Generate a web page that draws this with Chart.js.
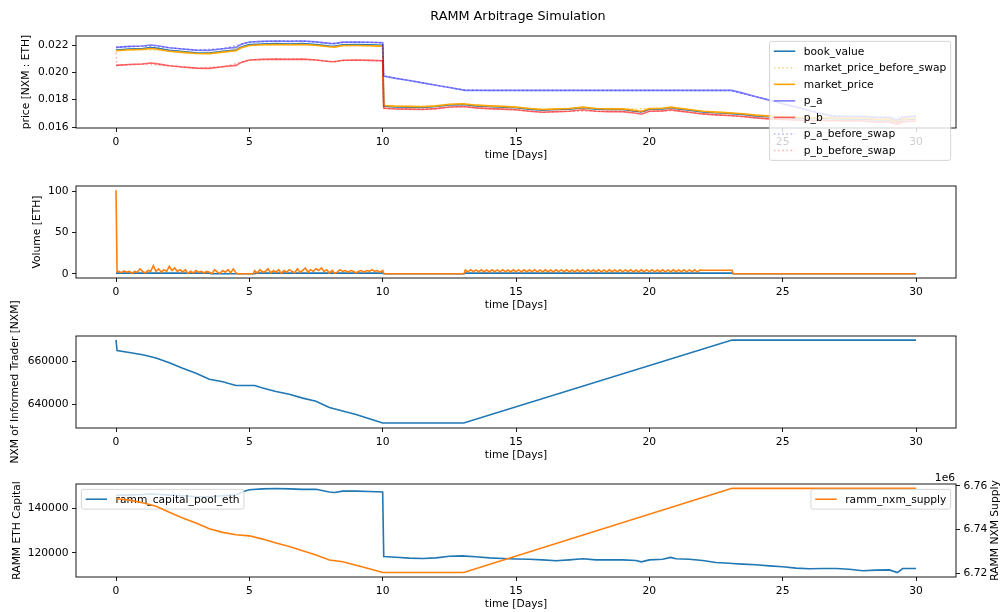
<!DOCTYPE html>
<html>
<head>
<meta charset="utf-8">
<title>RAMM Arbitrage Simulation</title>
<script src="https://cdn.jsdelivr.net/npm/chart.js@4.4.1/dist/chart.umd.min.js"></script>
<style>
html, body { margin:0; padding:0; background:#ffffff; }
#fig { position:relative; width:1001px; height:612px; overflow:hidden; background:#ffffff; }
#fig canvas { position:absolute; left:0; top:0; }
</style>
</head>
<body>
<div id="fig">
  <canvas id="p1" width="1001" height="612"></canvas>
  <canvas id="p2" width="1001" height="612"></canvas>
  <canvas id="p3" width="1001" height="612"></canvas>
  <canvas id="p4" width="1001" height="612"></canvas>
</div>
<script>
// ---------------- data ----------------
const FIG_TITLE = 'RAMM Arbitrage Simulation';
const xTicks = [0, 5, 10, 15, 20, 25, 30];
const xTickLabels = ['0', '5', '10', '15', '20', '25', '30'];
const priceTicks = [0.016, 0.018, 0.020, 0.022];
const priceTickLabels = ['0.016', '0.018', '0.020', '0.022'];
const volTicks = [0, 50, 100];
const volTickLabels = ['0', '50', '100'];
const traderTicks = [640000, 660000];
const traderTickLabels = ['640000', '660000'];
const capTicks = [120000, 140000];
const capTickLabels = ['120000', '140000'];
const supplyTicks = [6720000, 6740000, 6760000];
const supplyTickLabels = ['6.72', '6.74', '6.76'];

const priceDays = [0, 0.5, 1, 1.3, 1.5, 2, 2.5, 3, 3.5, 4,
  4.5, 4.7, 5, 5.5, 6, 6.5, 7, 7.5, 8, 8.2,
  8.5, 9, 9.5, 10, 10.04, 10.5, 11, 11.5, 12, 12.5,
  13, 13.1, 13.5, 14, 14.5, 15, 15.5, 16, 16.5, 17,
  17.5, 18, 18.5, 19, 19.5, 19.7, 20, 20.5, 20.8, 21,
  21.5, 22, 22.5, 23, 23.1, 23.5, 24, 24.5, 25, 25.5,
  26, 26.5, 26.8, 27, 27.5, 28, 28.5, 29, 29.3, 29.5,
  30];
const bookValue = [0.02164, 0.02171, 0.02174, 0.02181, 0.02177, 0.02161, 0.02152, 0.02144, 0.02142, 0.02154,
  0.02164, 0.02186, 0.02203, 0.02208, 0.02210, 0.02208, 0.02210, 0.02204, 0.02193, 0.02191,
  0.02202, 0.02203, 0.02201, 0.02198, 0.01752, 0.01747, 0.01746, 0.01743, 0.01750, 0.01761,
  0.01764, 0.01763, 0.01755, 0.01750, 0.01746, 0.01741, 0.01731, 0.01723, 0.01728, 0.01731,
  0.01741, 0.01731, 0.01728, 0.01728, 0.01716, 0.01710, 0.01730, 0.01733, 0.01741, 0.01735,
  0.01723, 0.01711, 0.01704, 0.01699, 0.01698, 0.01692, 0.01682, 0.01675, 0.01670, 0.01667,
  0.01663, 0.01663, 0.01662, 0.01661, 0.01660, 0.01659, 0.01653, 0.01651, 0.01636, 0.01653,
  0.01659];
const marketPrice = [0.02158, 0.02165, 0.02168, 0.02175, 0.02171, 0.02155, 0.02146, 0.02138, 0.02136, 0.02148,
  0.02158, 0.02180, 0.02197, 0.02202, 0.02204, 0.02202, 0.02204, 0.02198, 0.02187, 0.02185,
  0.02196, 0.02197, 0.02195, 0.02192, 0.01758, 0.01752, 0.01751, 0.01748, 0.01755, 0.01767,
  0.01770, 0.01768, 0.01760, 0.01755, 0.01751, 0.01746, 0.01736, 0.01728, 0.01733, 0.01736,
  0.01746, 0.01736, 0.01733, 0.01733, 0.01721, 0.01714, 0.01735, 0.01738, 0.01746, 0.01740,
  0.01728, 0.01716, 0.01709, 0.01704, 0.01703, 0.01697, 0.01687, 0.01680, 0.01675, 0.01672,
  0.01668, 0.01668, 0.01667, 0.01666, 0.01665, 0.01664, 0.01658, 0.01656, 0.01640, 0.01658,
  0.01664];
const pA = [0.02183, 0.02190, 0.02193, 0.02200, 0.02196, 0.02180, 0.02171, 0.02163, 0.02161, 0.02173,
  0.02183, 0.02205, 0.02222, 0.02227, 0.02229, 0.02227, 0.02229, 0.02223, 0.02212, 0.02210,
  0.02221, 0.02222, 0.02220, 0.02217, 0.01973, 0.01956, 0.01940, 0.01923, 0.01906, 0.01889,
  0.01872, 0.01868, 0.01868, 0.01868, 0.01868, 0.01868, 0.01868, 0.01868, 0.01868, 0.01868,
  0.01868, 0.01868, 0.01868, 0.01868, 0.01868, 0.01868, 0.01868, 0.01868, 0.01868, 0.01868,
  0.01868, 0.01868, 0.01868, 0.01868, 0.01868, 0.01848, 0.01822, 0.01797, 0.01771, 0.01746,
  0.01721, 0.01695, 0.01682, 0.01680, 0.01679, 0.01677, 0.01672, 0.01670, 0.01650, 0.01672,
  0.01680];
const pB = [0.02051, 0.02058, 0.02061, 0.02068, 0.02064, 0.02048, 0.02039, 0.02031, 0.02029, 0.02041,
  0.02051, 0.02073, 0.02090, 0.02095, 0.02097, 0.02095, 0.02097, 0.02091, 0.02080, 0.02078,
  0.02089, 0.02090, 0.02088, 0.02085, 0.01738, 0.01732, 0.01731, 0.01728, 0.01735, 0.01747,
  0.01750, 0.01748, 0.01740, 0.01735, 0.01731, 0.01726, 0.01716, 0.01708, 0.01713, 0.01716,
  0.01726, 0.01716, 0.01713, 0.01713, 0.01701, 0.01694, 0.01715, 0.01718, 0.01726, 0.01720,
  0.01708, 0.01696, 0.01689, 0.01684, 0.01683, 0.01677, 0.01667, 0.01660, 0.01655, 0.01652,
  0.01648, 0.01648, 0.01647, 0.01646, 0.01645, 0.01644, 0.01638, 0.01636, 0.01620, 0.01638,
  0.01644];

const beforeDays = [0, 0.04, 1, 2, 3, 4, 5, 6, 7, 8, 9, 10, 10.04,
  11, 12, 13, 14, 15, 16, 17, 18, 19, 20, 21, 22, 23, 24, 25, 26, 27, 28, 29, 30];
const marketPriceBefore = [0.02158, 0.02158, 0.02168, 0.02155, 0.02138, 0.02148, 0.02197, 0.02204, 0.02204, 0.02187, 0.02197, 0.02192, 0.01758,
  0.01751, 0.01755, 0.01770, 0.01755, 0.01746, 0.01728, 0.01736, 0.01736, 0.01733, 0.01735, 0.01740, 0.01716, 0.01704, 0.01687, 0.01675, 0.01668, 0.01666, 0.01664, 0.01656, 0.01664];
const pABefore = [0.02183, 0.02183, 0.02193, 0.02180, 0.02163, 0.02173, 0.02222, 0.02229, 0.02229, 0.02212, 0.02222, 0.02217, 0.01973,
  0.01940, 0.01906, 0.01872, 0.01868, 0.01868, 0.01868, 0.01868, 0.01868, 0.01868, 0.01868, 0.01868, 0.01868, 0.01868, 0.01822, 0.01771, 0.01721, 0.01680, 0.01677, 0.01670, 0.01680];
const pBBefore = [0.02144, 0.02051, 0.02061, 0.02048, 0.02031, 0.02041, 0.02090, 0.02097, 0.02097, 0.02080, 0.02090, 0.02085, 0.01738,
  0.01731, 0.01735, 0.01750, 0.01735, 0.01726, 0.01708, 0.01716, 0.01716, 0.01713, 0.01715, 0.01720, 0.01696, 0.01684, 0.01667, 0.01655, 0.01648, 0.01646, 0.01644, 0.01636, 0.01644];

const volDays = [0, 0.04,
  0.1, 0.2, 0.3, 0.4, 0.5, 0.6, 0.7, 0.8, 0.9, 1.0,
  1.1, 1.2, 1.3, 1.4, 1.5, 1.6, 1.7, 1.8, 1.9, 2.0,
  2.1, 2.2, 2.3, 2.4, 2.5, 2.6, 2.7, 2.8, 2.9, 3.0,
  3.1, 3.2, 3.3, 3.4, 3.5, 3.6, 3.7, 3.8, 3.9, 4.0,
  4.1, 4.2, 4.3, 4.4, 4.5,
  4.55, 5.15,
  5.2, 5.3, 5.4, 5.5, 5.6, 5.7, 5.8, 5.9, 6.0, 6.1,
  6.2, 6.3, 6.4, 6.5, 6.6, 6.7, 6.8, 6.9, 7.0, 7.1,
  7.2, 7.3, 7.4, 7.5, 7.6, 7.7, 7.8, 7.9, 8.0, 8.1,
  8.2, 8.3, 8.4, 8.5, 8.6, 8.7, 8.8, 8.9, 9.0, 9.1,
  9.2, 9.3, 9.4, 9.5, 9.6, 9.7, 9.8, 9.9, 10.0,
  10.05, 13.05,
  13.1, 13.2, 13.3, 13.4, 13.5, 13.6, 13.7, 13.8, 13.9, 14.0,
  14.1, 14.2, 14.3, 14.4, 14.5, 14.6, 14.7, 14.8, 14.9, 15.0,
  15.1, 15.2, 15.3, 15.4, 15.5, 15.6, 15.7, 15.8, 15.9, 16.0,
  16.1, 16.2, 16.3, 16.4, 16.5, 16.6, 16.7, 16.8, 16.9, 17.0,
  17.1, 17.2, 17.3, 17.4, 17.5, 17.6, 17.7, 17.8, 17.9, 18.0,
  18.1, 18.2, 18.3, 18.4, 18.5, 18.6, 18.7, 18.8, 18.9, 19.0,
  19.1, 19.2, 19.3, 19.4, 19.5, 19.6, 19.7, 19.8, 19.9, 20.0,
  20.1, 20.2, 20.3, 20.4, 20.5, 20.6, 20.7, 20.8, 20.9, 21.0,
  21.1, 21.2, 21.3, 21.4, 21.5, 21.6, 21.7, 21.8, 21.9, 22.0,
  23.1, 23.15, 30];
const volEth = [101.5, 2.5,
  3, 1.5, 3.5, 2, 3, 0.5, 3, 2, 6, 3,
  1, 4, 3, 10, 3, 6, 2, 5, 3, 9,
  4, 7, 3, 5, 2, 5, 0.5, 3, 1, 4,
  2, 3, 1, 3, 2, 0.5, 5, 2, 0.5, 4,
  2, 5, 1, 6, 1,
  0, 0,
  4, 1, 5, 2, 3, 6, 1, 4, 2, 5,
  0.5, 4, 2, 5, 3, 1, 6, 2, 4, 7,
  2, 5, 3, 6, 4, 7, 3, 5, 1, 4,
  0.5, 2, 5, 3, 4, 2, 4, 3, 1, 3,
  4, 2, 4, 3, 5, 3, 4, 2, 4,
  0, 0,
  4.6, 2.4, 4.8, 2.6, 4.7, 2.3, 4.9, 2.5, 4.6, 2.4,
  4.8, 2.5, 4.7, 2.4, 4.9, 2.6, 4.6, 2.3, 4.8, 2.5,
  4.7, 2.4, 4.9, 2.5, 4.6, 2.6, 4.8, 2.4, 4.7, 2.3,
  4.9, 2.5, 4.6, 2.4, 4.8, 2.6, 4.7, 2.5, 4.9, 2.4,
  4.6, 2.3, 4.8, 2.5, 4.7, 2.4, 4.9, 2.6, 4.6, 2.5,
  4.8, 2.4, 4.7, 2.3, 4.9, 2.5, 4.6, 2.6, 4.8, 2.4,
  4.7, 2.5, 4.9, 2.4, 4.6, 2.3, 4.8, 2.5, 4.7, 2.6,
  4.9, 2.4, 4.6, 2.5, 4.8, 2.4, 4.7, 2.3, 4.9, 2.5,
  4.6, 2.6, 4.8, 2.4, 4.7, 2.5, 4.9, 2.4, 4.6, 4.4,
  4.4, 0, 0];
const volNxmDays = [0, 3.5, 3.55, 5.2, 5.25, 10.0, 10.05, 13.05, 13.1, 23.1, 23.15, 30];
const volNxm = [0.8, 0.8, 0, 0, 0.8, 0.8, 0, 0, 0.8, 0.8, 0, 0];

const traderDays = [0, 0.04, 0.5, 1, 1.5, 2, 2.5, 3, 3.5, 4, 4.5, 5, 5.2, 5.5, 6, 6.5, 7, 7.5, 8, 8.5, 9, 9.5, 10, 13.04, 23.1, 30];
const traderNxm = [670100, 665100, 664200, 663200, 661700, 659400, 656900, 654600, 651800, 650600, 648900, 648900, 648900,
  647700, 646100, 644800, 643000, 641500, 638600, 637000, 635400, 633400, 631400, 631400, 670000, 670000];

const capitalPoolEth = [145800, 146000, 146200, 146400, 146300, 145900, 145600, 145300, 145200, 145600,
  146000, 147200, 148300, 148700, 148900, 148700, 148500, 148500, 147300, 147100,
  147700, 147700, 147500, 147300, 118300, 118000, 117600, 117400, 117700, 118400,
  118600, 118500, 118200, 117700, 117400, 117200, 117100, 116800, 116400, 116800,
  117300, 116800, 116800, 116800, 116500, 115900, 116800, 117100, 117900, 117300,
  117100, 116500, 115600, 115300, 115200, 114900, 114600, 114100, 113700, 113100,
  112800, 112900, 112900, 112900, 112600, 111900, 112200, 112300, 111100, 112900,
  112900];
const supplyDays = [0, 0.5, 1, 1.5, 2, 2.5, 3, 3.5, 4, 4.5, 5, 5.5, 6, 6.5, 7, 7.5, 8, 8.5, 9, 9.5, 10, 13.04, 23.1, 30];
const nxmSupply = [6754100, 6753500, 6752300, 6750700, 6747900, 6745300, 6743000, 6740400, 6738700, 6737600, 6737100, 6735600,
  6733800, 6732200, 6730300, 6728300, 6726000, 6725200, 6723600, 6722000, 6720300, 6720300, 6758900, 6758900];

// ---------------- styling / layout ----------------
const FS = 10.7;
const LW = 1.6;
const DOT = [1.6, 2.6];
const YW = 76, XH = 35, TICK = 4, RIGHT_PAD = 45;
const FONT = "'DejaVu Sans', 'Liberation Sans', sans-serif";
Chart.defaults.font.family = FONT;
Chart.defaults.font.size = FS;
Chart.defaults.color = '#000000';

function pts(xs, ys) { return xs.map((x, i) => ({ x: x, y: ys[i] })); }
function fixedTicks(values) { return (scale) => { scale.ticks = values.map(v => ({ value: v })); }; }

function xAxis() {
  return {
    type: 'linear', position: 'bottom', min: -1.5, max: 31.5,
    afterBuildTicks: fixedTicks(xTicks),
    afterFit: (s) => { s.height = XH; },
    ticks: { autoSkip: false, maxRotation: 0, minRotation: 0, padding: 3.5, color: '#000', font: { size: FS },
      callback: (v, i) => xTickLabels[i] },
    grid: { drawOnChartArea: false, drawTicks: true, tickLength: TICK, color: '#000', lineWidth: 0.9 },
    border: { display: false },
    title: { display: true, text: 'time [Days]', color: '#000', font: { size: FS }, padding: { top: 0, bottom: 1.2 } }
  };
}
function yAxis(min, max, ticks, labels, title, titlePad, position) {
  position = position || 'left';
  return {
    type: 'linear', position: position, min: min, max: max,
    afterBuildTicks: fixedTicks(ticks),
    afterFit: (s) => { s.width = position === 'left' ? YW : RIGHT_PAD; },
    ticks: { autoSkip: false, padding: 3.5, color: '#000', font: { size: FS }, callback: (v, i) => labels[i] },
    grid: { drawOnChartArea: false, drawTicks: true, tickLength: TICK, color: '#000', lineWidth: 0.9 },
    border: { display: false },
    title: title ? { display: true, text: title, color: '#000', font: { size: FS }, padding: { top: titlePad, bottom: 0 } } : { display: false }
  };
}
function ds(label, data, color, dash, order, axis) {
  return { label: label, data: data, borderColor: color, backgroundColor: color, borderWidth: LW,
    borderDash: dash, pointRadius: 0, fill: false, tension: 0, order: order, yAxisID: axis || 'y' };
}

function roundRect(ctx, x, y, w, h, r) {
  ctx.beginPath();
  ctx.moveTo(x + r, y); ctx.lineTo(x + w - r, y); ctx.arcTo(x + w, y, x + w, y + r, r);
  ctx.lineTo(x + w, y + h - r); ctx.arcTo(x + w, y + h, x + w - r, y + h, r);
  ctx.lineTo(x + r, y + h); ctx.arcTo(x, y + h, x, y + h - r, r);
  ctx.lineTo(x, y + r); ctx.arcTo(x, y, x + r, y, r); ctx.closePath();
}
function drawLegend(chart, lg) {
  const ctx = chart.ctx, a = chart.chartArea;
  const pad = 0.4 * FS, hl = 2 * FS, htp = 0.8 * FS, rowH = 11.2, sp = 0.5 * FS, bap = 0.5 * FS;
  ctx.save();
  ctx.font = FS + 'px ' + FONT;
  const items = lg.items.map(i => chart.data.datasets[i]);
  const tw = Math.max.apply(null, items.map(d => ctx.measureText(d.label).width));
  const w = pad + hl + htp + tw + pad;
  const h = 2 * pad + items.length * rowH + (items.length - 1) * sp;
  const x = lg.anchor === 'right' ? a.right - bap - w : a.left + bap;
  const y = a.top + bap;
  roundRect(ctx, x, y, w, h, 0.2 * FS);
  ctx.fillStyle = 'rgba(255,255,255,0.8)'; ctx.fill();
  ctx.strokeStyle = '#cccccc'; ctx.lineWidth = 0.8; ctx.stroke();
  items.forEach((d, k) => {
    const cy = y + pad + rowH / 2 + k * (rowH + sp);
    ctx.beginPath(); ctx.setLineDash(d.borderDash || []);
    ctx.strokeStyle = d.borderColor; ctx.lineWidth = d.borderWidth;
    ctx.moveTo(x + pad, cy); ctx.lineTo(x + pad + hl, cy); ctx.stroke();
    ctx.setLineDash([]);
    ctx.fillStyle = '#000'; ctx.textBaseline = 'middle'; ctx.textAlign = 'left';
    ctx.fillText(d.label, x + pad + hl + htp, cy + 0.5);
  });
  ctx.restore();
}
function drawText(ctx, t) {
  ctx.save();
  ctx.font = (t.size || FS) + 'px ' + FONT;
  ctx.fillStyle = '#000';
  ctx.textAlign = t.align || 'center';
  ctx.textBaseline = t.baseline || 'middle';
  ctx.translate(t.x, t.y);
  if (t.rotate) ctx.rotate(t.rotate);
  ctx.fillText(t.text, 0, 0);
  ctx.restore();
}
function mplPlugin(cfg) {
  return {
    id: 'mpl',
    afterDatasetDraw(chart, args) {
      (cfg.legends || []).forEach(lg => { if (lg.afterDataset === args.index) drawLegend(chart, lg); });
    },
    afterDatasetsDraw(chart) {
      const a = chart.chartArea, ctx = chart.ctx;
      ctx.save(); ctx.strokeStyle = '#000'; ctx.lineWidth = 0.9;
      ctx.strokeRect(a.left, a.top, a.right - a.left, a.bottom - a.top);
      ctx.restore();
    },
    afterDraw(chart) {
      (cfg.legends || []).forEach(lg => { if (lg.afterDataset === undefined) drawLegend(chart, lg); });
      (cfg.texts || []).forEach(t => drawText(chart.ctx, t));
    }
  };
}
function baseOptions(padding, scales) {
  return {
    responsive: false, animation: false, events: [],
    layout: { padding: padding },
    plugins: { legend: { display: false }, tooltip: { enabled: false }, title: { display: false } },
    scales: scales
  };
}

// ---------------- panel 1: prices ----------------
new Chart(document.getElementById('p1'), {
  type: 'line',
  data: { datasets: [
    ds('book_value', pts(priceDays, bookValue), '#1f77b4', [], 7),
    ds('market_price_before_swap', pts(beforeDays, marketPriceBefore), 'rgba(255,165,0,0.5)', DOT, 6),
    ds('market_price', pts(priceDays, marketPrice), '#ffa500', [], 5),
    ds('p_a', pts(priceDays, pA), 'rgba(0,0,255,0.5)', [], 4),
    ds('p_b', pts(priceDays, pB), 'rgba(255,0,0,0.6)', [], 3),
    ds('p_a_before_swap', pts(beforeDays, pABefore), 'rgba(0,0,255,0.3)', DOT, 2),
    ds('p_b_before_swap', pts(beforeDays, pBBefore), 'rgba(255,0,0,0.3)', DOT, 1)
  ] },
  options: baseOptions({ left: 0, top: 36, right: RIGHT_PAD, bottom: 612 - 128 - XH }, {
    x: xAxis(),
    y: yAxis(0.01593, 0.02266, priceTicks, priceTickLabels, 'price [NXM : ETH]', 19.4)
  }),
  plugins: [mplPlugin({
    legends: [{ items: [0, 1, 2, 3, 4, 5, 6], anchor: 'right' }],
    texts: [{ text: FIG_TITLE, x: 518, y: 17, size: 12.8 }]
  })]
});

// ---------------- panel 2: volume ----------------
new Chart(document.getElementById('p2'), {
  type: 'line',
  data: { datasets: [
    ds('volume_nxm', pts(volNxmDays, volNxm), '#1f77b4', [], 2),
    ds('volume_eth', pts(volDays, volEth), '#ff7f0e', [], 1)
  ] },
  options: baseOptions({ left: 0, top: 186, right: RIGHT_PAD, bottom: 612 - 278 - XH }, {
    x: xAxis(),
    y: yAxis(-5.1, 106.6, volTicks, volTickLabels, 'Volume [ETH]', 30.6)
  }),
  plugins: [mplPlugin({})]
});

// ---------------- panel 3: informed trader NXM ----------------
new Chart(document.getElementById('p3'), {
  type: 'line',
  data: { datasets: [
    ds('nxm_informed_trader', pts(traderDays, traderNxm), '#1f77b4', [], 1)
  ] },
  options: baseOptions({ left: 0, top: 336, right: RIGHT_PAD, bottom: 612 - 428 - XH }, {
    x: xAxis(),
    y: yAxis(629100, 671900, traderTicks, traderTickLabels, 'NXM of Informed Trader [NXM]', 8.6)
  }),
  plugins: [mplPlugin({})]
});

// ---------------- panel 4: capital pool & supply ----------------
new Chart(document.getElementById('p4'), {
  type: 'line',
  data: { datasets: [
    ds('ramm_capital_pool_eth', pts(priceDays, capitalPoolEth), '#1f77b4', [], 2, 'y'),
    ds('ramm_nxm_supply', pts(supplyDays, nxmSupply), '#ff7f0e', [], 1, 'y2')
  ] },
  options: baseOptions({ left: 0, top: 484, right: 0, bottom: 612 - 577 - XH }, {
    x: xAxis(),
    y: yAxis(109100, 150900, capTicks, capTickLabels, 'RAMM ETH Capital', 10.6, 'left'),
    y2: yAxis(6718200, 6760900, supplyTicks, supplyTickLabels, null, 0, 'right')
  }),
  plugins: [mplPlugin({
    legends: [{ items: [0], anchor: 'left', afterDataset: 0 }, { items: [1], anchor: 'right' }],
    texts: [
      { text: '1e6', x: 955, y: 478, align: 'right' },
      { text: 'RAMM NXM Supply', x: 995, y: 530.5, rotate: -Math.PI / 2 }
    ]
  })]
});
</script>
</body>
</html>
